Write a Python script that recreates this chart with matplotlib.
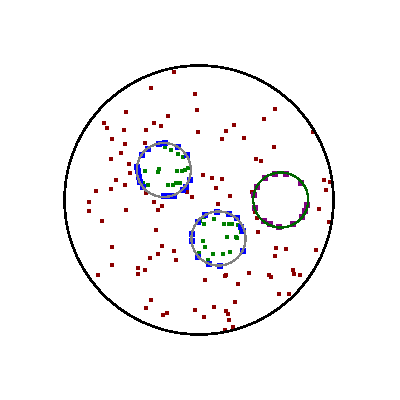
import matplotlib
matplotlib.use("Agg")
import matplotlib.pyplot as plt
from matplotlib.patches import Circle

# picture units: 0..400 across, y grows downward
outer = (199, 200, 134.5)
rings = [(163.8, 170, 27.0, 'gray'), (218.5, 238.5, 27.0, 'gray'), (280.8, 200, 27.5, 'darkgreen')]

red_x = [174, 151, 195, 196.7, 126, 167.7, 103.7, 107, 123.7, 154, 160.7, 146, 197.7, 112, 124.7, 144.7,
         120.7, 111, 128.7, 130, 275, 264, 233.7, 226, 222, 244, 313, 274, 256, 261, 203, 212, 222, 216,
         186.7, 192, 230, 218, 251.7, 255, 257, 257.7, 324, 330, 326, 319, 329, 316, 116, 125, 111, 96,
         89, 89, 126, 102, 146, 154, 162, 158, 156, 112, 162, 158, 174, 150, 176, 112, 138, 145, 138, 98,
         151, 146, 163, 167, 195, 204, 214, 235, 226, 228, 229, 233, 225, 276, 286, 275, 249, 226, 224.7,
         269, 271, 293, 294, 300, 205, 238, 279, 289]
red_y = [71.7, 88, 94, 109.7, 112, 115.7, 123, 128, 130, 123, 125.7, 130, 131.7, 138.7, 144, 143,
         152.7, 159, 163.7, 173, 108.7, 118.7, 124.7, 130.7, 138.7, 137.7, 131.7, 146.7, 158.7, 160.7, 174.7, 177.7, 178.7, 187.7,
         191.7, 196.7, 195.7, 203.7, 191.7, 211.7, 217.7, 231.7, 179.7, 181.7, 189.7, 208.7, 221.7, 249.7, 180, 184.7, 188.7, 190.7,
         201.7, 210.7, 209.7, 220.7, 192.7, 202, 205.7, 209.7, 229.7, 246.7, 245.7, 253.7, 250.7, 257.7, 259.7, 264.7, 267.7, 269.7, 273.7, 275,
         299.7, 307.7, 314.7, 312.7, 309.7, 316.7, 306.7, 301.7, 310.7, 313.7, 319.7, 326.7, 329.7, 247.7, 249, 255.7, 273, 274.7, 276,
         274.7, 276.7, 270, 274, 275, 280, 284, 293.7, 293.7]

green_x = [165, 170.7, 177.7, 183, 145, 159, 157.7, 176.7, 182, 185, 188, 139, 142.7, 148, 168, 173, 176, 180,
           204, 200, 204, 214, 223.7, 229, 231.7, 238, 241, 227, 235.7, 237.3, 203, 205, 199, 213, 222.7, 230, 208]
green_y = [146.7, 150, 154, 156.7, 170.7, 169, 172, 170.7, 171.3, 170.3, 167.7, 173.3, 182.7, 184.7, 184.7, 184.7, 182.7, 182.7,
           216.7, 221, 224, 218.7, 223.7, 223.7, 223.7, 225, 231.7, 236.7, 236.7, 237.7, 240.7, 246.7, 252.7, 253.7, 253.7, 251.7, 260]

blue_x = [159, 165, 148, 178, 142, 187, 137.3, 137.5, 138.5, 140, 143, 190, 183, 186, 164, 170, 174,
          204.5, 216.7, 228.5, 236.5, 241, 243, 243, 220, 209, 197.5, 192, 192.3, 197.5]
blue_y = [143.5, 143.3, 148.5, 147.3, 155.3, 155.3, 166.5, 171, 177, 181.5, 186.5, 180, 189.5, 187.3, 196, 196, 195.5,
          215, 211.7, 214, 218.3, 227, 231, 250.7, 265.6, 263.5, 256.7, 241, 234.3, 221.7]

purple_x = [274.7, 286.3, 265, 301.3, 256.7, 253.7, 306.7, 305, 254.7, 301.7, 293, 279, 270.3, 264]
purple_y = [173.7, 173.7, 178.3, 183.3, 186.7, 195, 204.7, 211.3, 208.3, 216.7, 224.3, 227.3, 224.3, 220.7]

fig = plt.figure(figsize=(4, 4), dpi=100)
ax = fig.add_axes([0, 0, 1, 1])

ms = 3.3
ax.plot(red_x, red_y, 's', color='darkred', ms=ms, mew=0, antialiased=False, zorder=2)
ax.plot(green_x, green_y, 's', color='green', ms=ms, mew=0, antialiased=False, zorder=2)
ax.plot(blue_x, blue_y, 's', color='blue', ms=3.7, mew=0, antialiased=False, zorder=2)
ax.plot(purple_x, purple_y, 's', color='purple', ms=3.7, mew=0, antialiased=False, zorder=2)

ax.add_patch(Circle(outer[:2], outer[2], fill=False, ec='black', lw=1.1, antialiased=False, zorder=3))
for cx, cy, r, c in rings:
    ax.add_patch(Circle((cx, cy), r, fill=False, ec=c, lw=0.9, antialiased=False, zorder=3))

ax.set_xlim(0, 400)
ax.set_ylim(400, 0)
ax.set_aspect('equal')
ax.axis('off')

fig.savefig('out.png', dpi=100)
